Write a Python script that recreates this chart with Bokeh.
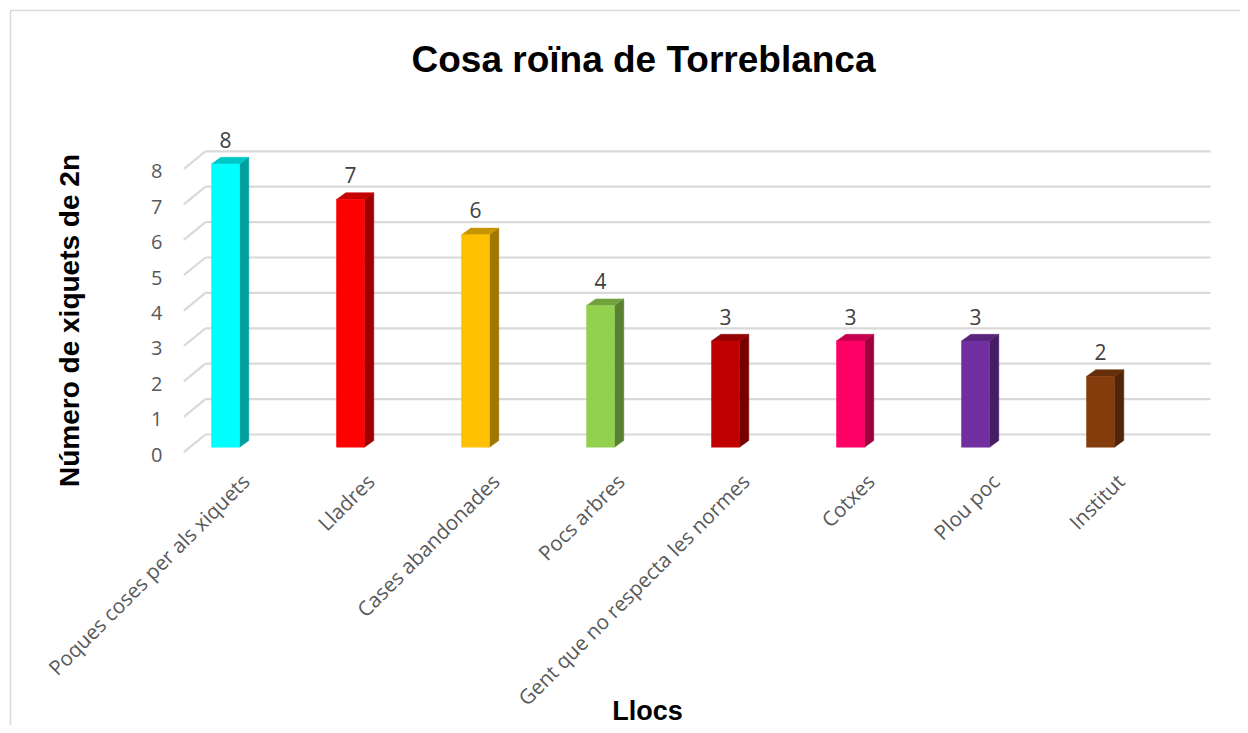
import numpy as np
from bokeh.plotting import figure
from bokeh.models import Range1d
from bokeh.embed import file_html
from bokeh.resources import INLINE
from bokeh.core.properties import value

# ---------------- data ----------------
title = "Cosa roïna de Torreblanca"
x_title = "Llocs"
y_title = "Número de xiquets de 2n"
categories = ["Poques coses per als xiquets", "Lladres", "Cases abandonades",
              "Pocs arbres", "Gent que no respecta les normes", "Cotxes",
              "Plou poc", "Institut"]
values = [8, 7, 6, 4, 3, 3, 3, 2]
colors = ["#00FFFF", "#FF0000", "#FFC000", "#92D050", "#C00000", "#FF0066",
          "#7030A0", "#843C0C"]
y_ticks = [0, 1, 2, 3, 4, 5, 6, 7, 8]

# ---------------- geometry (pixels) ----------------
W, H = 1240, 725
MARGIN = 0       # canvas origin on the page (observed)
SLOT = 125.0     # px per category
BAR0 = 225.0     # page x of first bar centre
UNIT = 35.4      # px per value unit
BASE = 446.7     # page y of bar front-face zero


def px_x(d):
    return d / SLOT


def px_y(d):
    return d / UNIT


def X(page_x):
    return (page_x - BAR0) / SLOT


def Y(page_y):
    return (BASE - page_y) / UNIT


p = figure(width=W, height=H,
           x_range=Range1d(X(MARGIN), X(MARGIN + W)),
           y_range=Range1d(Y(MARGIN + H), Y(MARGIN)),
           min_border=0, toolbar_location=None, output_backend="svg",
           x_axis_location=None, y_axis_location=None)
p.grid.visible = False
p.outline_line_color = None
p.background_fill_color = "white"
p.border_fill_color = "white"

GRID = "#D9D9D9"

# chart border (top + left visible)
p.segment(x0=[X(10), X(10)], y0=[Y(10), Y(10)], x1=[X(1260), X(10)], y1=[Y(10), Y(760)],
          line_color=GRID, line_width=1.5)

# back-wall gridlines with 3D diagonal at left
yt = np.array(y_ticks, dtype=float)
back_y = yt + px_y(446.7 - 434.0)
front_y = yt - px_y(451.7 - 446.7)
p.segment(x0=[X(205)] * len(yt), y0=back_y, x1=[X(1210)] * len(yt), y1=back_y,
          line_color=GRID, line_width=2.2)
p.segment(x0=[X(183.3)] * len(yt), y0=front_y, x1=[X(205)] * len(yt), y1=back_y,
          line_color=GRID, line_width=2.2)


def shade(hexc, f):
    h = hexc.lstrip("#")
    r, g, b = (int(h[i:i + 2], 16) for i in (0, 2, 4))
    return "#%02X%02X%02X" % (int(r * f), int(g * f), int(b * f))


hw = px_x(14)
ddx = px_x(9.3)
ddy = px_y(6.7)
idx = np.arange(len(categories), dtype=float)
vals = np.array(values, dtype=float)

side_xs, side_ys, top_xs, top_ys = [], [], [], []
for i, v in zip(idx, vals):
    side_xs.append([i + hw, i + hw + ddx, i + hw + ddx, i + hw])
    side_ys.append([0, ddy, v + ddy, v])
    top_xs.append([i - hw, i + hw, i + hw + ddx, i - hw + ddx])
    top_ys.append([v, v, v + ddy, v + ddy])

side_c = [shade(c, 0.62) for c in colors]
top_c = [shade(c, 0.78) for c in colors]

p.patches(xs=side_xs, ys=side_ys, fill_color=side_c, line_color=side_c, line_width=0.5)
p.patches(xs=top_xs, ys=top_ys, fill_color=top_c, line_color=top_c, line_width=0.5)
p.quad(left=idx - hw, right=idx + hw, bottom=0, top=vals,
       fill_color=colors, line_color=colors, line_width=0.5)

# value labels
p.text(x=idx, y=vals + px_y(24.4), text=[str(v) for v in values],
       text_font=value("Open Sans"), text_font_size="21px", text_color="#404040",
       text_align="center", text_baseline="middle")

# y tick labels
p.text(x=[X(162)] * len(yt), y=yt - px_y(7.4), text=[str(t) for t in y_ticks],
       text_font=value("Open Sans"), text_font_size="20px", text_color="#595959",
       text_align="right", text_baseline="middle")

# category labels
p.text(x=idx + px_x(20), y=[Y(477)] * len(idx), text=categories, angle=np.pi / 4,
       text_font=value("Open Sans"), text_font_size="20.5px", text_color="#595959",
       text_align="right", text_baseline="middle")

# titles
p.text(x=[X(643)], y=[Y(59)], text=[title], text_font=value("Liberation Sans"),
       text_font_size="37px", text_font_style="bold", text_color="#000000",
       text_align="center", text_baseline="middle")
p.text(x=[X(647)], y=[Y(710)], text=[x_title], text_font=value("Liberation Sans"),
       text_font_size="27px", text_font_style="bold", text_color="#000000",
       text_align="center", text_baseline="middle")
p.text(x=[X(69)], y=[Y(320)], text=[y_title], angle=np.pi / 2,
       text_font=value("Liberation Sans"), text_font_size="28px",
       text_font_style="bold", text_color="#000000",
       text_align="center", text_baseline="middle")

open("out.html", "w").write(file_html(p, INLINE))
